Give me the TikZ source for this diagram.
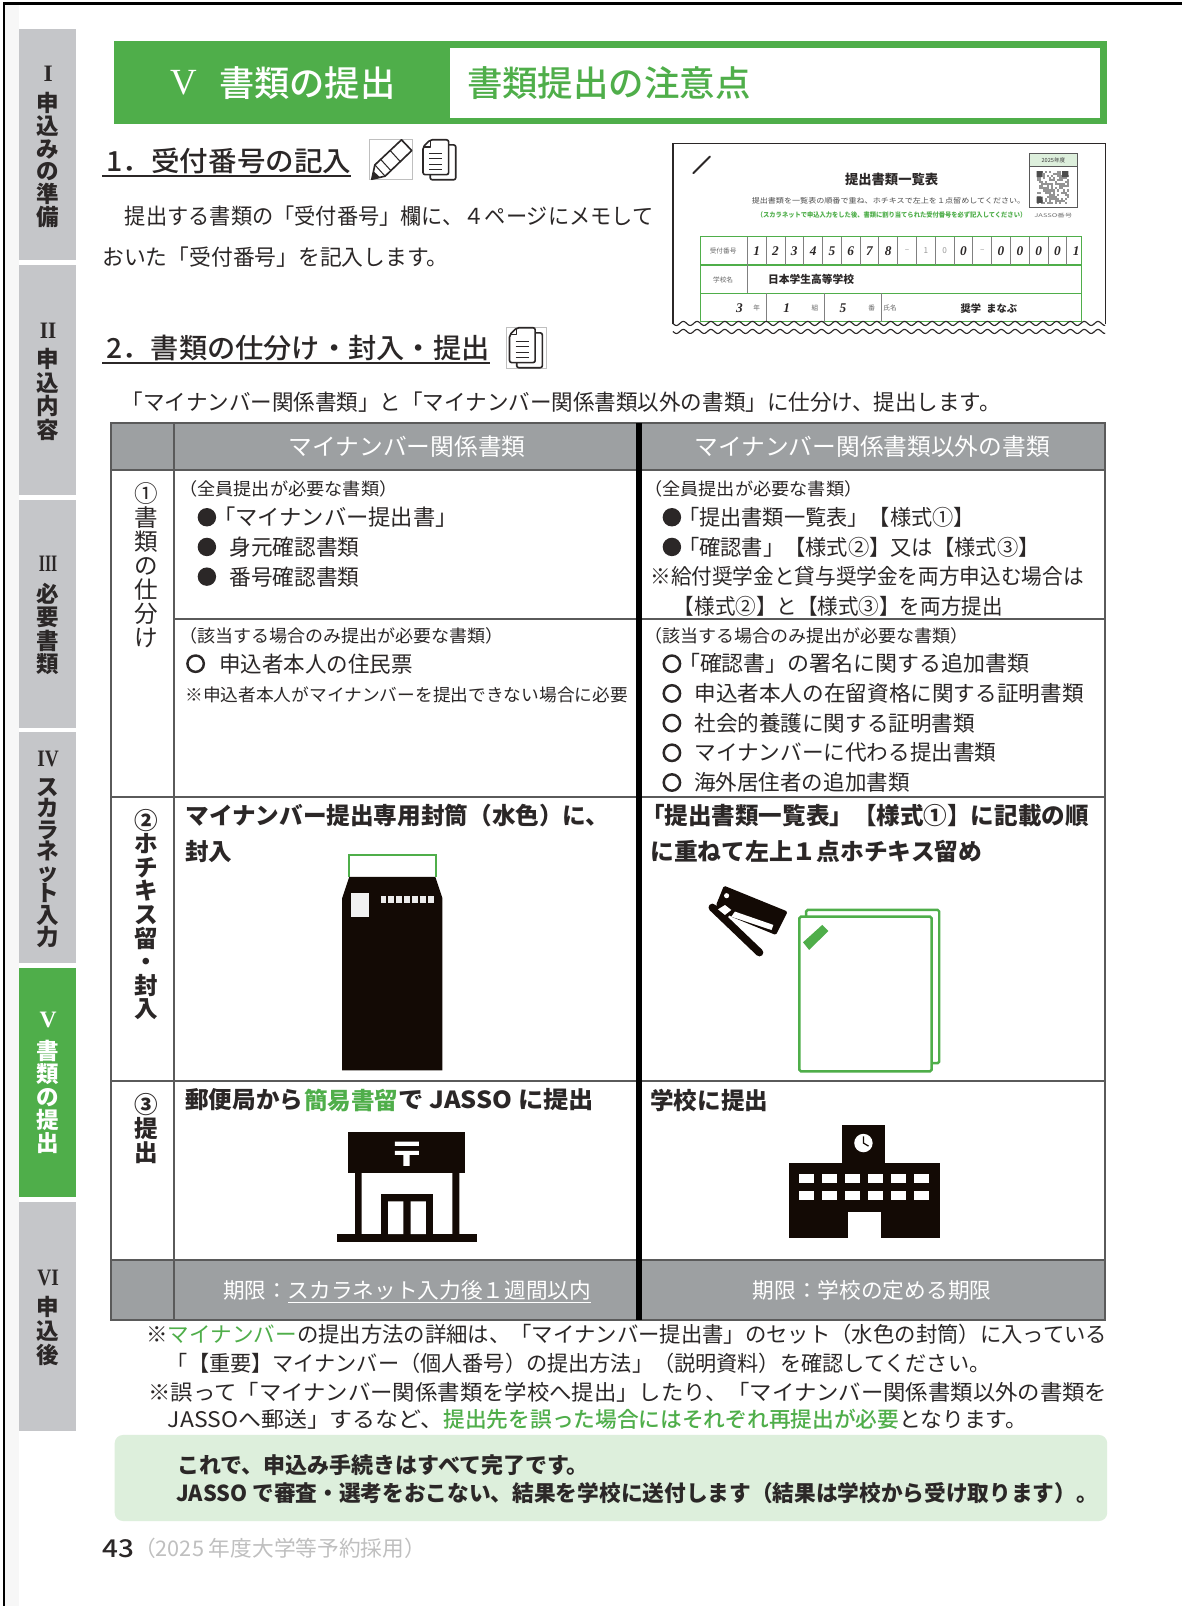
\documentclass[tikz,border=0pt]{standalone}
\usepackage{graphicx}
\usepackage{fontspec}
\setmainfont{Noto Sans CJK JP}
\newfontfamily\med{Noto Sans CJK JP Medium}
\newfontfamily\romanf{Liberation Serif}
\definecolor{gr}{HTML}{4FAE4A}
\definecolor{lgr}{HTML}{DDEFDC}
\definecolor{tabg}{HTML}{C5C6C9}
\definecolor{hdg}{HTML}{9DA0A2}
\definecolor{ink}{HTML}{2B2727}
\definecolor{blk}{HTML}{130A05}
\definecolor{tl}{HTML}{5A5A5A}
\tikzset{
 x=1pt,y=-1pt,
 tx/.style={anchor=west,inner sep=0pt,outer sep=0pt,text=ink},
 wh/.style={text=white},
 grt/.style={text=gr},
 vstack/.style={anchor=north,inner sep=0pt,outer sep=0pt,align=center,text=ink},
 tline/.style={draw=tl,line width=1.8pt},
 icon/.style={draw=ink,line width=1.6pt,line join=round},
 iconbox/.style={draw=black!25,line width=0.8pt},
 frm/.style={draw=gr,line width=1.6pt},
 cell/.style={draw=black!50,line width=0.7pt},
 papr/.style={draw=gr,line width=2.4pt,rounded corners=1.5pt},
 rnum/.style={vstack,font=\romanf\bfseries\fontsize{23pt}{23pt}\selectfont},
}
% text node: [opts]{name}{x}{y}{size}{width}{text}
\newcommand\tn[7][]{\node[tx,#1] (#2) at (#3,#4) {\resizebox{#6pt}{\height}{\fontsize{#5pt}{#5pt}\selectfont #7}};}
\newcommand\tm[7][]{\node[tx,#1] (#2) at (#3,#4) {\resizebox{#6pt}{\height}{\med\fontsize{#5pt}{#5pt}\selectfont #7}};}
\newcommand\tb[7][]{\node[tx,#1] (#2) at (#3,#4) {\resizebox{#6pt}{\height}{\bfseries\fontsize{#5pt}{#5pt}\selectfont #7}};}
\newcommand\vs[7][]{\node[vstack,font=\fontsize{#5pt}{#6pt}\selectfont,#1] (#2) at (#3,#4) {#7};}
\newcommand\vsb[7][]{\node[vstack,font=\bfseries\fontsize{#5pt}{#6pt}\selectfont,#1] (#2) at (#3,#4) {#7};}
\newcommand\docicon[2]{\begin{scope}[shift={(#1,#2)}]
 \draw[icon,rounded corners=2pt] (25,5)--(32,5)--(32,39)--(7,39)--(7,34);
 \draw[icon,fill=white,rounded corners=2pt] (7,0)--(25,0)--(25,34)--(0,34)--(0,7)--cycle;
 \draw[icon,line width=1.1pt] (7,0)--(7,7)--(0,7);
 \foreach \yy in {13,18.5,24,29}{\draw[icon,line width=1.1pt] (6,\yy)--(19,\yy);}
\end{scope}}
\begin{document}
\begin{tikzpicture}
\useasboundingbox (0,0) rectangle (1154,1568);
\fill[white] (0,0) rectangle (1154,1568);
\fill[black!3] (5,4) rectangle (19,1568);
\draw[black,line width=2.2pt] (4,1568)--(4,3.5)--(1154,3.5);
% side tabs
\fill[tabg] (19,28) rectangle (74,254);
\fill[tabg] (19,259) rectangle (74,483);
\fill[tabg] (19,488) rectangle (74,711);
\fill[tabg] (19,715) rectangle (74,940);
\fill[gr] (19,945) rectangle (74,1169);
\fill[tabg] (19,1174) rectangle (74,1397);
\node[rnum] (r1) at (47,65) {I};
\vsb{s1}{47}{90}{22}{22.3}{申\\込\\み\\の\\準\\備}
\node[rnum] (r2) at (47,315) {\resizebox{16pt}{\height}{II}};
\vsb{s2}{47}{340}{22}{23}{申\\込\\内\\容}
\node[rnum] (r3) at (47,543) {\resizebox{18pt}{\height}{III}};
\vsb{s3}{47}{569}{22}{23}{必\\要\\書\\類}
\node[rnum] (r4) at (47,733) {\resizebox{21pt}{\height}{IV}};
\vsb{s4}{47}{760}{22}{20.8}{ス\\カ\\ラ\\ネ\\ッ\\ト\\入\\力}
\node[rnum,text=white] (r5) at (47,988) {V};
\vsb[text=white]{s5}{47}{1016}{22}{22.3}{書\\類\\の\\提\\出}
\node[rnum] (r6) at (47,1240) {\resizebox{21pt}{\height}{VI}};
\vsb{s6}{47}{1266}{22}{23}{申\\込\\後}
% title band
\fill[gr] (111,40) rectangle (1081,121);
\fill[white] (439,47) rectangle (1074,115);
\node[tx,wh,font=\romanf\fontsize{36pt}{36pt}\selectfont] (tv) at (166,81) {V};
\tm[wh]{t1}{214}{81}{34.5}{172}{書類の提出}
\tm[grt]{t2}{456}{81}{34.5}{277}{書類提出の注意点}
% section 1
\tm{h1}{104}{157}{27}{239}{1．受付番号の記入}
\draw[ink,line width=1.8pt] (100,171.5)--(343,171.5);
\draw[iconbox] (361,136) rectangle (402.6,175);
\draw[icon,fill=white] (363,175)--(366,161)--(392,136.5)--(402,147)--(376,172)--cycle;
\draw[icon,line width=1pt] (366,161)--(376,172) (372,156)--(382,167) (381,147)--(391,158);
\fill[ink] (363,175)--(364.5,167)--(371,173)--cycle;
\docicon{413}{136.5}
\tn{p1}{122}{211}{21.5}{516}{提出する書類の「受付番号」欄に、４ページにメモして}
\tn{p2}{100}{251}{21.5}{338}{おいた「受付番号」を記入します。}
% thumbnail
\fill[white] (657,140) rectangle (1079,322);
\draw[ink,line width=1.2pt] (657,322)--(657,140)--(1079,140)--(1079,322);
\draw[ink,line width=2pt,line cap=round] (677,169)--(693,153);
\tn[font=\bfseries]{th1}{825}{175}{13}{91}{提出書類一覧表}
\tn[text=black!70]{th2}{734}{196}{7}{267}{提出書類を一覧表の順番で重ね、ホチキスで左上を１点留めしてください。}
\tn[grt,font=\bfseries]{th3}{739}{210}{6.5}{263}{（スカラネットで申込入力をした後、書類に割り当てられた受付番号を必ず記入してください）}
\fill[lgr] (1005,150) rectangle (1052,163);
\draw[black!65,line width=1pt] (1005,150) rectangle (1052,203) (1005,163)--(1052,163);
\node[inner sep=0pt,text=black!75,font=\fontsize{5.5pt}{5.5pt}\selectfont] (qrh) at (1028.5,156.5) {2025年度};
\pgfmathsetseed{7}
\foreach \i in {0,...,15}{\foreach \j in {0,...,15}{
 \pgfmathtruncatemacro\q{rnd<0.5 ? 1:0}
 \ifnum\q=1 \fill[black!42] (1012+2*\i,167+2*\j) rectangle ++(2,2);\fi
}}
\fill[black!70] (1012,167) rectangle ++(6,6) (1037,167) rectangle ++(6,6) (1012,192) rectangle ++(6,6);
\tn[text=black!55]{qrc}{1010}{210}{5}{37}{JASSO番号}
\draw[frm] (684,231) rectangle (1056,314);
\draw[frm] (684,258.7)--(1056,258.7) (684,286.4)--(1056,286.4);
\foreach \k in {0,...,17}{\draw[cell] ({729.6+18.35*\k},231)--({729.6+18.35*\k},258.7);}
\draw[cell] (729.6,258.7)--(729.6,286.4) (748.4,286.4)--(748.4,314) (805,286.4)--(805,314) (860.7,286.4)--(860.7,314);
\node[inner sep=0pt,text=black!60,font=\fontsize{6.5pt}{6.5pt}\selectfont] (fa) at (706,245) {受付番号};
\node[inner sep=0pt,text=black!60,font=\fontsize{6.5pt}{6.5pt}\selectfont] (fb) at (706,273) {学校名};
\foreach \d [count=\k from 0] in {1,2,3,4,5,6,7,8,{},{},{},0,{},0,0,0,0,1}{
 \node[inner sep=0pt,text=ink,font=\romanf\itshape\bfseries\fontsize{13pt}{13pt}\selectfont] (dg\k) at ({738.8+18.35*\k},245) {\d};
}
\foreach \k/\d in {8/--,9/1,10/0,12/--}{
 \node[inner sep=0pt,text=black!40,font=\fontsize{8pt}{8pt}\selectfont] (dh\k) at ({738.8+18.35*\k},245) {\d};
}
\node[tx,font=\bfseries\fontsize{10.5pt}{10.5pt}\selectfont] (sch) at (750,273) {日本学生高等学校};
\node[inner sep=0pt,text=ink,font=\romanf\itshape\bfseries\fontsize{13pt}{13pt}\selectfont] (f3) at (722,301) {3};
\node[inner sep=0pt,text=ink,font=\romanf\itshape\bfseries\fontsize{13pt}{13pt}\selectfont] (f1) at (768,301) {1};
\node[inner sep=0pt,text=ink,font=\romanf\itshape\bfseries\fontsize{13pt}{13pt}\selectfont] (f5) at (823,301) {5};
\node[inner sep=0pt,text=black!60,font=\fontsize{6.5pt}{6.5pt}\selectfont] (fn) at (738.7,301) {年};
\node[inner sep=0pt,text=black!60,font=\fontsize{6.5pt}{6.5pt}\selectfont] (fk) at (795.6,301) {組};
\node[inner sep=0pt,text=black!60,font=\fontsize{6.5pt}{6.5pt}\selectfont] (fb2) at (851,301) {番};
\node[inner sep=0pt,text=black!60,font=\fontsize{6.5pt}{6.5pt}\selectfont] (fs) at (869,301) {氏名};
\node[tx,font=\bfseries\fontsize{10pt}{10pt}\selectfont] (nm) at (938,301) {奨学\hspace{5pt}まなぶ};
% wavy bottom
\fill[white] (650,316) rectangle (1085,332);
\draw[ink,line width=1.1pt] plot[domain=657:1079,samples=340,smooth] (\x,{315.8+2*sin((\x-657)*26.67)});
\draw[ink,line width=1.1pt] plot[domain=657:1079,samples=340,smooth] (\x,{323.6+2*sin((\x-657)*26.67)});
% section 2
\tm{h2}{104}{340}{27}{374}{2．書類の仕分け・封入・提出}
\draw[ink,line width=1.8pt] (100,354.5)--(478,354.5);
\draw[iconbox] (494,319.5) rectangle (533,359.6);
\docicon{497.5}{320}
\tn{intro}{119}{393}{21.5}{858}{「マイナンバー関係書類」と「マイナンバー関係書類以外の書類」に仕分け、提出します。}
% table
\fill[hdg] (108,413) rectangle (1079,459);
\fill[hdg] (108,1230) rectangle (1079,1289);
\draw[tline] (108,413) rectangle (1079,1289);
\draw[tline] (170,413)--(170,1289);
\draw[tline] (108,459)--(1079,459) (170,604)--(1079,604) (108,778)--(1079,778) (108,1055)--(1079,1055) (108,1230)--(1079,1230);
\draw[black,line width=6pt] (624,413)--(624,1289);
\tn[wh]{c1}{282}{436}{23}{231}{マイナンバー関係書類}
\tn[wh]{c2}{678}{436}{23}{347}{マイナンバー関係書類以外の書類}
% row labels
\vs{l1}{143}{471}{23}{23.4}{①\\書\\類\\の\\仕\\分\\け}
\vsb{l2}{143}{790}{23}{23}{②\\ホ\\チ\\キ\\ス\\留\\・\\封\\入}
\vsb{l3}{143}{1067.5}{23}{23.5}{③\\提\\出}
% row 1 left
\tn{a1}{175}{477}{17}{213}{（全員提出が必要な書類）}
\fill[ink] (202,505) circle (9) (202,534) circle (9) (202,563) circle (9);
\tn{a2}{208}{505}{21.5}{239}{「マイナンバー提出書」}
\tn{a3}{224}{534}{21.5}{127}{身元確認書類}
\tn{a4}{224}{563}{21.5}{127}{番号確認書類}
\tn{a5}{175}{621}{17}{317}{（該当する場合のみ提出が必要な書類）}
\draw[ink,line width=2.4pt] (191,648) circle (8);
\tn{a6}{214}{648}{21.5}{189}{申込者本人の住民票}
\tn{a7}{181}{678}{17}{432}{※申込者本人がマイナンバーを提出できない場合に必要}
% row 1 right
\tn{b1}{629}{477}{17}{213}{（全員提出が必要な書類）}
\fill[ink] (656,505) circle (9) (656,534) circle (9);
\tn{b2}{662}{505}{21}{290}{「提出書類一覧表」【様式①】}
\tn{b3}{662}{534}{21}{353}{「確認書」【様式②】又は【様式③】}
\tn{b4}{635}{563}{21}{423}{※給付奨学金と貸与奨学金を両方申込む場合は}
\tn{b5}{658}{592}{21}{321}{【様式②】と【様式③】を両方提出}
\tn{b6}{629}{621}{17}{317}{（該当する場合のみ提出が必要な書類）}
\draw[ink,line width=2.4pt] (656,648) circle (8) (656,677) circle (8) (656,706) circle (8) (656,735) circle (8) (656,764) circle (8);
\tn{b7}{662}{648}{21}{343}{「確認書」の署名に関する追加書類}
\tn{b8}{678}{677}{21}{380}{申込者本人の在留資格に関する証明書類}
\tn{b9}{678}{706}{21}{274}{社会的養護に関する証明書類}
\tn{b10}{678}{735}{21}{295}{マイナンバーに代わる提出書類}
\tn{b11}{678}{764}{21}{210}{海外居住者の追加書類}
% row 2
\tb{d1}{181}{796}{23}{414}{マイナンバー提出専用封筒（水色）に、}
\tb{d2}{181}{831}{23}{46}{封入}
\tb{d3}{626}{796}{23}{437}{「提出書類一覧表」【様式①】に記載の順}
\tb{d4}{635}{831}{23}{324}{に重ねて左上１点ホチキス留め}
% envelope
\draw[gr,line width=1.8pt] (340.5,856)--(340.5,835)--(425.5,835)--(425.5,856);
\fill[blk] (341,856)--(425,856)--(432,877)--(432,1045)--(334,1045)--(334,877)--cycle;
\fill[white!95!black] (343,872) rectangle (360,895);
\foreach \k in {0,...,6}{\fill[white!92!black] ({371.5+7.8*\k},874.5) rectangle ++(5,7.5);}
% stapler
\fill[blk,rounded corners=1.5pt] (706.8,864.7)--(769,890)--(757.6,912.9)--(714,895)--(699,884)--cycle;
\draw[blk,line width=7.5pt,line cap=round] (695.5,886)--(741.5,930);
\fill[blk,rounded corners=1pt] (693,886)--(707,882)--(716,890)--(708,898)--cycle;
\fill[white] (701,887.8)--(707.8,883.6)--(714,888.4)--(707.8,893.3)--cycle;
\fill[white] (709.4,874.5) circle (2.5);
\fill[white] (717.5,890)--(755,903)--(753.3,908)--(714,895)--cycle;
% papers
\draw[papr,fill=white] (787,888.4) rectangle (917,1038);
\draw[papr,fill=white] (780.5,895) rectangle (909.5,1046);
\fill[gr] (784,920)--(802.8,903)--(808.7,909)--(790,927.5)--cycle;
% row 3
\tb{e1}{181}{1074}{23}{115}{郵便局から}
\tb[grt]{e2}{297}{1074}{23}{92}{簡易書留}
\tb{e3}{389}{1074}{23}{191}{で JASSO に提出}
\tb{e4}{635}{1074}{23}{115}{学校に提出}
% post office
\fill[blk] (340,1105.4) rectangle (454,1145.5);
\fill[blk] (346.6,1145) rectangle (353,1206) (441.6,1145) rectangle (448.4,1206);
\fill[blk] (328.7,1205) rectangle (466,1213);
\fill[blk] (371.6,1165.6) rectangle (422.4,1206);
\fill[white] (379,1173) rectangle (393.8,1205) (400.9,1173) rectangle (415.9,1205);
\fill[white] (385.6,1114.6) rectangle (409,1118.8) (385.6,1123.7) rectangle (409,1127.6) (393.8,1123.7) rectangle (400,1138.3);
% school
\fill[blk] (770,1135) rectangle (918,1209);
\fill[blk] (822,1098) rectangle (864,1136);
\fill[white] (843,1116) circle (9);
\draw[blk,line width=1.2pt] (843,1109.5)--(843,1116)--(848,1119);
\foreach \k in {0,...,5}{
 \fill[white] ({780+22.4*\k},1146) rectangle ++(15,9);
 \fill[white] ({780+22.4*\k},1163) rectangle ++(15,9);
}
\fill[white] (828,1183) rectangle (860,1209.5);
% deadlines
\tn[wh]{g1}{218}{1260}{21}{63}{期限：}
\tn[wh]{g2}{281}{1260}{21}{296}{スカラネット入力後１週間以内}
\draw[white,line width=1.1pt] (281,1271.5)--(577,1271.5);
\tn[wh]{g3}{735}{1260}{21}{233}{期限：学校の定める期限}
% notes
\tn{n1}{143}{1303}{21}{21}{※}
\tn[grt]{n2}{164}{1303}{21}{126}{マイナンバー}
\tn{n3}{290}{1303}{21}{791}{の提出方法の詳細は、「マイナンバー提出書」のセット（水色の封筒）に入っている}
\tn{n4}{163}{1331}{21}{804}{「【重要】マイナンバー（個人番号）の提出方法」（説明資料）を確認してください。}
\tn{n5}{145}{1359}{21}{936}{※誤って「マイナンバー関係書類を学校へ提出」したり、「マイナンバー関係書類以外の書類を}
\tn{n6}{164}{1386}{21}{269}{JASSOへ郵送」するなど、}
\tm[grt]{n7}{433}{1386}{21}{445}{提出先を誤った場合にはそれぞれ再提出が必要}
\tn{n8}{878}{1386}{21}{125}{となります。}
% closing box
\fill[lgr,rounded corners=8pt] (112,1401) rectangle (1081,1485);
\tb{z1}{173}{1430}{21.5}{402}{これで、申込み手続きはすべて完了です。}
\tb{z2}{172}{1458}{21.5}{900}{JASSO で審査・選考をおこない、結果を学校に送付します（結果は学校から受け取ります）。}
% footer
\node[tx,font=\med\fontsize{24pt}{24pt}\selectfont] (pg) at (100,1512) {\resizebox{31pt}{\height}{43}};
\tn[text=black!25]{ft}{131}{1512}{21}{285}{（2025 年度大学等予約採用）}
\end{tikzpicture}
\end{document}
